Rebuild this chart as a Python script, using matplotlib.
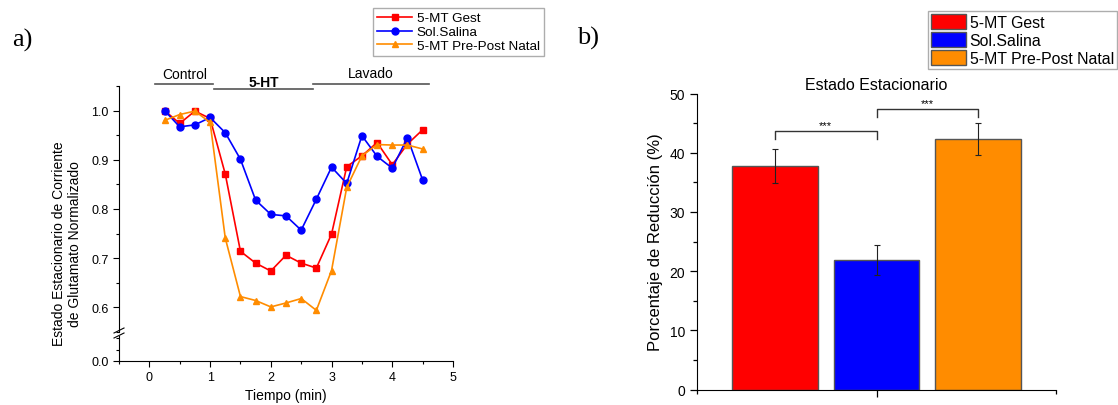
import matplotlib
matplotlib.use('Agg')
import matplotlib.pyplot as plt
from matplotlib.ticker import MultipleLocator, FixedLocator

plt.rcParams['font.family'] = ['Liberation Sans', 'DejaVu Sans']

# Panel a) data
tiempo = [0.25, 0.5, 0.75, 1.0, 1.25, 1.5, 1.75, 2.0, 2.25, 2.5, 2.75, 3.0,
          3.25, 3.5, 3.75, 4.0, 4.25, 4.5]
gest = [1.0, 0.974, 0.999, 0.984, 0.871, 0.714, 0.690, 0.674, 0.706, 0.690,
        0.680, 0.749, 0.886, 0.908, 0.935, 0.890, 0.932, 0.961]
salina = [1.0, 0.967, 0.971, 0.986, 0.955, 0.901, 0.818, 0.789, 0.786, 0.757,
          0.820, 0.885, 0.852, 0.949, 0.907, 0.883, 0.945, 0.859]
prepost = [0.980, 0.992, 0.999, 0.976, 0.741, 0.622, 0.614, 0.601, 0.609, 0.618,
           0.594, 0.675, 0.844, 0.908, 0.931, 0.930, 0.930, 0.922]
series_labels = ['5-MT Gest', 'Sol.Salina', '5-MT Pre-Post Natal']

# periods drawn above panel a)
periodos = ['Control', '5-HT', 'Lavado']
periodo_inicio = [0.1, 1.07, 2.7]
periodo_fin = [1.05, 2.7, 4.6]

# Panel b) data
grupos = ['5-MT Gest', 'Sol.Salina', '5-MT Pre-Post Natal']
reduccion = [37.8, 21.9, 42.3]
error = [2.85, 2.5, 2.75]

rojo = '#ff0000'
azul = '#0000ff'
naranja = '#ff8c00'

W, H = 1118, 406
fig = plt.figure(figsize=(W / 100, H / 100), dpi=100)

def box(x0, x1, y0, y1):
    return [x0 / W, 1 - y1 / H, (x1 - x0) / W, (y1 - y0) / H]

# ---------- panel a ----------
ax_up = fig.add_axes(box(119, 453, 87, 333))
ax_lo = fig.add_axes(box(119, 453, 337, 362), sharex=ax_up)

for ax in (ax_up, ax_lo):
    ax.plot(tiempo, gest, color=rojo, marker='s', ms=4.5, lw=1.2, label=series_labels[0])
    ax.plot(tiempo, salina, color=azul, marker='o', ms=5, lw=1.2, label=series_labels[1])
    ax.plot(tiempo, prepost, color=naranja, marker='^', ms=5, lw=1.2, label=series_labels[2])
    ax.spines['top'].set_visible(False)
    ax.spines['right'].set_visible(False)
    ax.tick_params(direction='out', labelsize=9, length=4, width=0.8)
    ax.tick_params(which='minor', direction='out', length=2.5, width=0.8)

ax_up.set_xlim(-0.5, 5)
ax_up.set_ylim(0.55, 1.05)
ax_up.yaxis.set_major_locator(FixedLocator([0.6, 0.7, 0.8, 0.9, 1.0]))
ax_up.yaxis.set_minor_locator(MultipleLocator(0.05))
ax_up.spines['bottom'].set_visible(False)
ax_up.tick_params(axis='x', which='both', bottom=False, labelbottom=False)

ax_lo.set_ylim(0, 0.11)
ax_lo.set_yticks([0.0])
ax_lo.set_yticklabels(['0.0'])
ax_lo.yaxis.set_minor_locator(FixedLocator([0.05, 0.1]))
ax_lo.xaxis.set_major_locator(MultipleLocator(1))
ax_lo.xaxis.set_minor_locator(MultipleLocator(0.5))
ax_lo.set_xlabel('Tiempo (min)', fontsize=10, labelpad=3)

# axis break marks
for dy in (0, 5):
    fig.add_artist(plt.Line2D([114 / W, 124 / W], [1 - (339 - dy) / H, 1 - (334 - dy) / H],
                              color='black', lw=0.8))

fig.text(67 / W, 1 - 244 / H, 'Estado Estacionario de Corriente\nde Glutamato Normalizado',
         rotation=90, ha='center', va='center', fontsize=10, multialignment='center',
         linespacing=1.15)

# period bars
niveles = [1.055, 1.043, 1.055]
texto_y = [1.074, 1.059, 1.077]
for nombre, x0, x1, yl, yt in zip(periodos, periodo_inicio, periodo_fin, niveles, texto_y):
    ax_up.plot([x0, x1], [yl, yl], color='#555555', lw=1.2, clip_on=False)
    ax_up.text((x0 + x1) / 2, yt, nombre, ha='center', va='center', fontsize=10,
               fontweight='bold' if nombre == '5-HT' else 'normal')

h, l = ax_up.get_legend_handles_labels()
fig.legend(h, l, loc='upper left', bbox_to_anchor=(373 / W, 1 - 9 / H), fontsize=9.7,
           frameon=True, fancybox=False, edgecolor='#999999', handlelength=2.6,
           borderpad=0.3, labelspacing=0.1, handletextpad=0.35, borderaxespad=0)

fig.text(22 / W, 1 - 40 / H, 'a)', family='Liberation Serif', fontsize=19,
         ha='center', va='center')

# ---------- panel b ----------
axb = fig.add_axes(box(697, 1056, 94.5, 390.7))
pos = [1, 2, 3]
barras = axb.bar(pos, reduccion, width=0.84, color=[rojo, azul, naranja],
                 edgecolor='#555555', linewidth=1, label=grupos)
axb.errorbar(pos, reduccion, yerr=error, fmt='none', ecolor='#222222',
             elinewidth=0.8, capsize=2.5, capthick=0.8)
axb.set_xlim(0.23, 3.77)
axb.set_ylim(0, 50)
axb.spines['top'].set_visible(False)
axb.spines['right'].set_visible(False)
axb.yaxis.set_major_locator(MultipleLocator(10))
axb.yaxis.set_minor_locator(MultipleLocator(5))
axb.set_xticks([2])
axb.set_xticklabels([''])
axb.xaxis.set_minor_locator(FixedLocator([0.23, 3.77]))
axb.tick_params(direction='out', labelsize=10, length=5, width=0.9)
axb.tick_params(which='minor', direction='out', length=3, width=0.9)
axb.set_ylabel('Porcentaje de Reducción (%)', fontsize=12, labelpad=5)
axb.set_title('Estado Estacionario', fontsize=11.5, pad=3)

# significance brackets
axb.plot([1, 1, 2, 2], [42.4, 43.6, 43.6, 42.4], color='#333333', lw=1)
axb.text(1.5, 43.8, '***', ha='center', va='bottom', fontsize=8)
axb.plot([2, 2, 3, 3], [46.1, 47.3, 47.3, 46.1], color='#333333', lw=1, clip_on=False)
axb.text(2.5, 47.5, '***', ha='center', va='bottom', fontsize=8)

fig.legend(barras, grupos, loc='upper right', bbox_to_anchor=(1117 / W, 1 - 12 / H),
           fontsize=11.4, frameon=True, fancybox=False, edgecolor='#999999',
           handlelength=2.2, handleheight=1.05, borderpad=0.2, labelspacing=0.15,
           handletextpad=0.25, borderaxespad=0)

fig.text(588 / W, 1 - 38 / H, 'b)', family='Liberation Serif', fontsize=19,
         ha='center', va='center')

fig.savefig('out.png', dpi=100)
